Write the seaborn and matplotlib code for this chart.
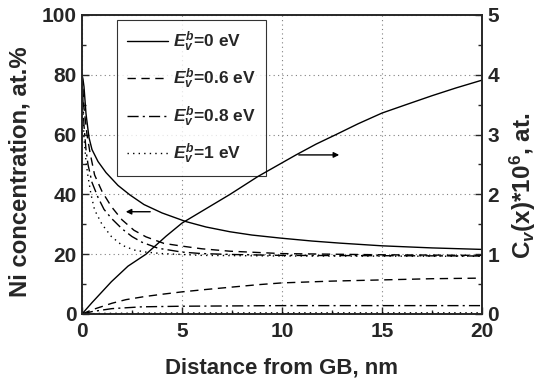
import numpy as np
import pandas as pd
import matplotlib
matplotlib.use("Agg")
import matplotlib.pyplot as plt
import seaborn as sns
from matplotlib.ticker import MultipleLocator

# Ni concentration profiles (left axis)
ni_x0 = [0, 0.05, 0.1, 0.2, 0.35, 0.5, 0.8, 1.2, 1.8, 2.4, 3.1, 4, 5.2, 6.2, 7.4, 8.5, 9.9, 11.5, 12.9, 15, 17.5, 20]
ni_y0 = [80, 78.5, 76, 67, 59, 55, 51, 47.3, 43, 39.8, 36.6, 33.8, 30.9, 29.1, 27.5, 26.4, 25.4, 24.4, 23.7, 22.8, 22.1, 21.6]
ni_x06 = [0, 0.05, 0.1, 0.25, 0.4, 0.63, 1.0, 1.47, 2.0, 2.6, 3.2, 4.1, 5, 6, 7.4, 10, 15, 20]
ni_y06 = [80, 75, 69, 60, 54, 46.5, 41, 35.9, 31.5, 28, 25.8, 23.6, 22.7, 21.8, 21, 20.2, 19.8, 19.6]
ni_x08 = [0, 0.05, 0.1, 0.2, 0.3, 0.5, 0.8, 1.1, 1.47, 2, 2.5, 3, 3.8, 5, 6, 7.5, 10, 20]
ni_y08 = [80, 71, 63, 55, 50, 44, 39, 35, 32, 28.5, 25.9, 24, 22, 20.7, 20.2, 19.9, 19.6, 19.4]
ni_x1 = [0, 0.04, 0.1, 0.2, 0.3, 0.45, 0.63, 1, 1.47, 2, 2.6, 3.2, 4, 6, 10, 20]
ni_y1 = [80, 68, 59, 51, 46, 40, 34.8, 30, 25.9, 23, 21.4, 20.7, 20.2, 19.6, 19.4, 19.3]

# vacancy concentration profiles (right axis, *1e6)
cv_x0 = [0, 0.5, 1.47, 2.3, 3.2, 4.2, 5.0, 6.3, 7.4, 8.8, 10.7, 11.7, 12.7, 13.8, 15, 16.2, 17.5, 18.7, 20]
cv_y0 = [0, 0.19, 0.54, 0.8, 1.0, 1.3, 1.52, 1.78, 2.0, 2.3, 2.66, 2.84, 3.0, 3.18, 3.36, 3.5, 3.65, 3.78, 3.91]
cv_x06 = [0, 0.5, 1.5, 2.2, 3.1, 4, 5, 6.2, 7.5, 8.8, 10, 12.5, 15, 17.5, 20]
cv_y06 = [0, 0.07, 0.18, 0.24, 0.29, 0.33, 0.37, 0.41, 0.45, 0.49, 0.52, 0.55, 0.57, 0.59, 0.6]
cv_x08 = [0, 0.5, 1.5, 3, 5, 10, 20]
cv_y08 = [0, 0.04, 0.09, 0.12, 0.13, 0.14, 0.14]
cv_x1 = [0, 1, 3, 10, 20]
cv_y1 = [0, 0.01, 0.015, 0.02, 0.02]

labels = [r"$E_v^b$=0 eV", r"$E_v^b$=0.6 eV", r"$E_v^b$=0.8 eV", r"$E_v^b$=1 eV"]
styles = ["-", (0, (6, 4)), (0, (8, 3, 1.5, 3)), (0, (1, 3))]

sns.set_style("ticks")
plt.rcParams['font.family'] = ['Liberation Sans', 'DejaVu Sans']
plt.rcParams['font.weight'] = 'bold'
plt.rcParams['mathtext.fontset'] = 'custom'
plt.rcParams['mathtext.rm'] = 'Liberation Sans:bold'
plt.rcParams['mathtext.it'] = 'Liberation Sans:bold:italic'

fig = plt.figure(figsize=(5.38, 3.84), dpi=100)
ax = fig.add_axes([0.1524, 0.1823, 0.7435, 0.7787])
ax2 = ax.twinx()

ni = [(ni_x0, ni_y0), (ni_x06, ni_y06), (ni_x08, ni_y08), (ni_x1, ni_y1)]
cv = [(cv_x0, cv_y0), (cv_x06, cv_y06), (cv_x08, cv_y08), (cv_x1, cv_y1)]

for (x, y), lab, ls in zip(ni, labels, styles):
    sns.lineplot(x=x, y=y, ax=ax, color="black", lw=1, label=lab, linestyle=ls)
for (x, y), ls in zip(cv, styles):
    sns.lineplot(x=x, y=y, ax=ax2, color="black", lw=1, linestyle=ls)

ax.set_xlim(0, 20)
ax.set_ylim(0, 100)
ax2.set_ylim(0, 5)
ax.xaxis.set_major_locator(MultipleLocator(5))
ax.xaxis.set_minor_locator(MultipleLocator(2.5))
ax.yaxis.set_major_locator(MultipleLocator(20))
ax.yaxis.set_minor_locator(MultipleLocator(10))
ax2.yaxis.set_major_locator(MultipleLocator(1))
ax2.yaxis.set_minor_locator(MultipleLocator(0.5))

for a in (ax, ax2):
    a.tick_params(which="both", direction="in", labelsize=15, width=1, pad=4)
    a.tick_params(which="major", length=5)
    a.tick_params(which="minor", length=3)
    for s in a.spines.values():
        s.set_linewidth(1.2)
ax.tick_params(top=False, right=False)
ax.tick_params(axis="x", pad=6)

ax.grid(True, which="major", linestyle=(0, (1, 3)), color="gray", lw=0.8)
ax.set_axisbelow(True)

ax.set_xlabel("Distance from GB, nm", fontsize=16, fontweight="bold", labelpad=12)
ax.set_ylabel("Ni concentration, at.%", fontsize=17.2, fontweight="bold")
ax2.set_ylabel(r"C$_v$(x)*10$^6$, at.", fontsize=17.5, fontweight="bold")
ax.yaxis.set_label_coords(-0.125, 0.475)
ax2.yaxis.set_label_coords(1.065, 0.43)

leg = ax.legend(loc="upper left", bbox_to_anchor=(0.0875, 0.983), fontsize=12.5,
                frameon=True, fancybox=False, edgecolor="black", handlelength=2.4,
                labelspacing=0.75, borderpad=0.55, borderaxespad=0, handletextpad=0.3)
leg.get_frame().set_linewidth(0.8)

# arrows pointing to the relevant axis
ax.annotate("", xy=(2.05, 34.2), xytext=(3.55, 34.2),
            arrowprops=dict(arrowstyle="-|>", color="black", lw=1, mutation_scale=8))
ax2.annotate("", xy=(13.0, 2.66), xytext=(10.7, 2.66),
             arrowprops=dict(arrowstyle="-|>", color="black", lw=1, mutation_scale=8))

fig.savefig("out.png", dpi=100)
